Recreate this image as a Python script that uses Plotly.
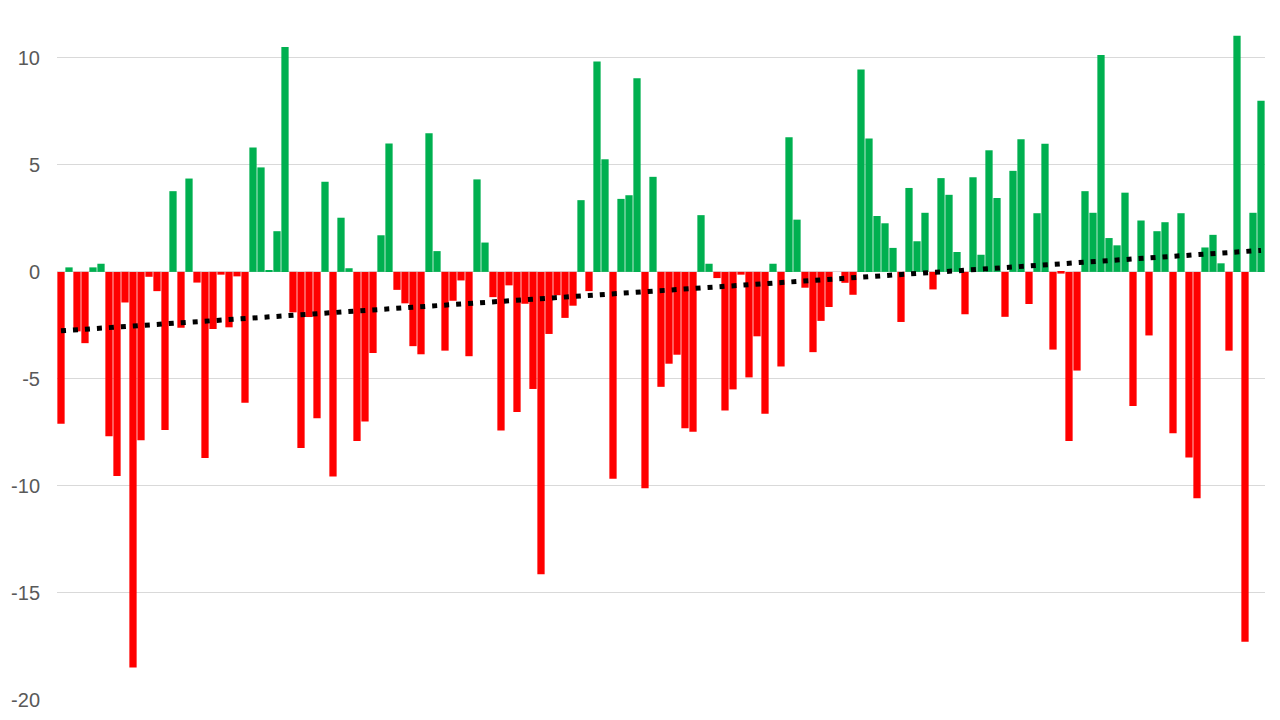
import numpy as np
import plotly.graph_objects as go

values = [
    -7.1, 0.21, -2.78, -3.33, 0.21, 0.38, -7.68, -9.54, -1.43, -18.48,
    -7.87, -0.23, -0.9, -7.39, 3.77, -2.61, 4.36, -0.5, -8.7, -2.67,
    -0.13, -2.59, -0.21, -6.11, 5.81, 4.88, 0.08, 1.9, 10.51, -1.89,
    -8.23, -2.11, -6.84, 4.21, -9.56, 2.53, 0.17, -7.9, -6.99, -3.79,
    1.71, 6.0, -0.84, -1.47, -3.47, -3.85, 6.48, 0.97, -3.68, -1.35,
    -0.4, -3.94, 4.32, 1.37, -1.18, -7.41, -0.63, -6.55, -1.49, -5.47,
    -14.13, -2.9, -1.09, -2.15, -1.58, 3.35, -0.9, 9.83, 5.26, -9.66,
    3.41, 3.58, 9.05, -10.11, 4.44, -5.37, -4.29, -3.87, -7.3, -7.47,
    2.65, 0.38, -0.29, -6.48, -5.49, -0.13, -4.93, -3.01, -6.63, 0.38,
    -4.42, 6.29, 2.44, -0.74, -3.75, -2.29, -1.64, 0.0, -0.51, -1.07,
    9.45, 6.23, 2.61, 2.27, 1.12, -2.34, 3.92, 1.43, 2.76, -0.82,
    4.38, 3.6, 0.93, -1.98, 4.42, 0.8, 5.68, 3.45, -2.1, 4.72,
    6.19, -1.5, 2.74, 5.98, -3.63, -0.08, -7.9, -4.61, 3.77, 2.76,
    10.13, 1.58, 1.24, 3.7, -6.27, 2.4, -2.97, 1.9, 2.32, -7.54,
    2.74, -8.67, -10.57, 1.14, 1.73, 0.4, -3.68, 11.03, -17.28, 2.76,
    8.0,
]
categories = list(range(1, len(values) + 1))
tick_vals = [10, 5, 0, -5, -10, -15, -20]
tick_text = ["10", "5", "0", "-5", "-10", "-15", "-20"]

colors = ["#00B050" if v > 0 else "#FF0000" for v in values]

# linear trendline fitted to the series
slope, intercept = np.polyfit(categories, values, 1)
trend = [slope * c + intercept for c in categories]

fig = go.Figure()
fig.add_trace(go.Bar(x=categories, y=values, marker=dict(color=colors, line=dict(width=0)),
                     showlegend=False))
fig.add_trace(go.Scatter(x=categories, y=trend, mode="lines",
                         line=dict(color="black", width=5, dash="5px,7px"),
                         showlegend=False))

fig.update_layout(
    template="none",
    width=1264, height=704,
    margin=dict(l=49, r=7, t=7, b=12),
    paper_bgcolor="white", plot_bgcolor="white",
    bargap=0.09,
    font=dict(family="Liberation Sans, Arial, sans-serif", size=20, color="#595959"),
    xaxis=dict(type="linear", range=[0.5, len(values) + 0.5], showticklabels=False,
               showgrid=False, zeroline=False, showline=False, ticks="", automargin=False),
    yaxis=dict(range=[-20, 12], tickvals=tick_vals, ticktext=tick_text,
               showgrid=True, gridcolor="#D9D9D9", gridwidth=1, zeroline=False,
               showline=False, ticks="", ticklabelstandoff=16, automargin=False),
)

fig.write_html("out.html")
